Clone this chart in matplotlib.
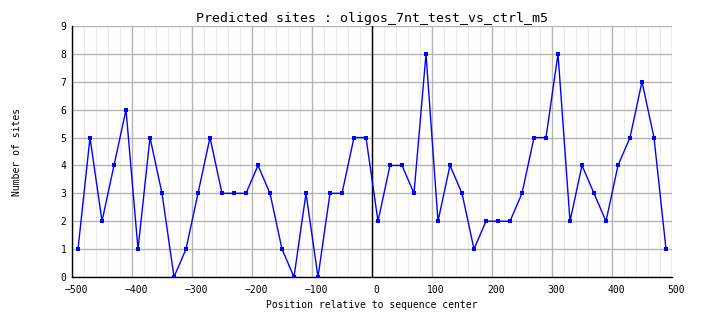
import matplotlib
matplotlib.use("Agg")
import matplotlib.pyplot as plt
import matplotlib.transforms as mtransforms
import numpy as np

# window positions (bp from sequence center) and site counts
positions = list(range(-490, 491, 20))
sites = [1, 5, 2, 4, 6, 1, 5, 3, 0, 1,
         3, 5, 3, 3, 3, 4, 3, 1, 0, 3,
         0, 3, 3, 5, 5, 2, 4, 4, 3, 8,
         2, 4, 3, 1, 2, 2, 2, 3, 5, 5,
         8, 2, 4, 3, 2, 4, 5, 7, 5, 1]
x_ticks = list(range(-500, 501, 100))
y_ticks = list(range(0, 10))

mono = 'DejaVu Sans Mono'

fig = plt.figure(figsize=(7.04, 3.28), dpi=100)
ax = fig.add_axes([72/704, 1-277/328, 600/704, 251/328])

# minor grid every 20, major grid every 100 / every site
for xm in range(-480, 500, 20):
    if xm % 100 != 0:
        ax.axvline(xm, color='#ebebeb', lw=0.8, zorder=0)
for xm in x_ticks:
    ax.axvline(xm, color='#b4b4b4', lw=1, zorder=0)
for ym in y_ticks:
    ax.axhline(ym, color='#b4b4b4', lw=1, zorder=0)
ax.axvline(0, color='black', lw=1, zorder=1)

ax.plot(positions, sites, color='#0000ff', lw=1, marker='s', ms=2.5,
        markeredgewidth=0, zorder=3)

ax.set_xlim(-500, 500)
ax.set_ylim(0, 9)
ax.set_xticks(x_ticks)
ax.set_yticks(y_ticks)
ax.tick_params(length=0, labelsize=7)
ax.tick_params(axis='x', pad=6)
ax.tick_params(axis='y', pad=4)
for lab in ax.get_xticklabels() + ax.get_yticklabels():
    lab.set_family(mono)
# nudge x tick labels a little to the right
shift = mtransforms.ScaledTranslation(4/100, 0, fig.dpi_scale_trans)
for lab in ax.get_xticklabels():
    lab.set_transform(lab.get_transform() + shift)
for s in ['top', 'right']:
    ax.spines[s].set_visible(False)
for s in ['left', 'bottom']:
    ax.spines[s].set_color('black')
    ax.spines[s].set_linewidth(1)

ax.set_title("Predicted sites : oligos_7nt_test_vs_ctrl_m5",
             family=mono, fontsize=9.5, pad=3)
ax.set_xlabel("Position relative to sequence center", family=mono,
              fontsize=7, labelpad=3)
ax.set_ylabel("Number of sites", family=mono, fontsize=7, labelpad=0)
ax.yaxis.set_label_coords(-50/600, 0.5)

fig.savefig("out.png", dpi=100, facecolor='white')
